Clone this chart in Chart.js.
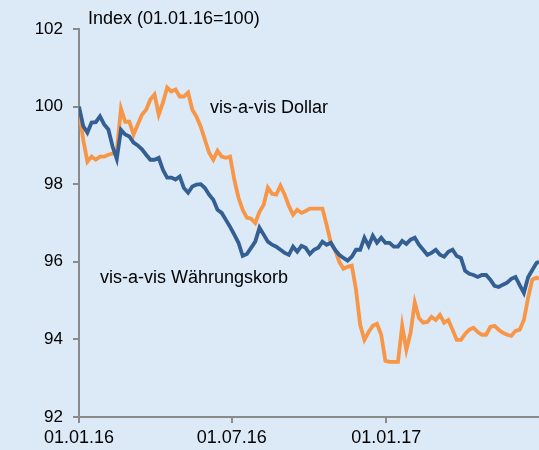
<!DOCTYPE html>
<html>
<head>
<meta charset="utf-8">
<script src="https://cdn.jsdelivr.net/npm/chart.js@4.4.0/dist/chart.umd.min.js"></script>
<style>
  body { margin: 0; background: #dce9f7; }
  #wrap { width: 539px; height: 450px; }
</style>
</head>
<body>
<div id="wrap"><canvas id="indexChart" width="539" height="450"></canvas></div>
<script>
// days since 01.01.16
const dayOffsets = [0, 5, 10, 15, 20, 25, 30, 35, 40, 45,
  50, 55, 60, 65, 70, 75, 80, 85, 90, 95,
  100, 105, 110, 115, 120, 125, 130, 135, 140, 145,
  150, 155, 160, 165, 170, 175, 180, 185, 190, 195,
  200, 205, 210, 215, 220, 225, 230, 235, 240, 245,
  250, 255, 260, 265, 270, 275, 280, 285, 290, 295,
  300, 305, 310, 315, 320, 325, 330, 335, 340, 345,
  350, 355, 360, 365, 370, 375, 380, 385, 390, 395,
  400, 405, 410, 415, 420, 425, 430, 435, 440, 445,
  450, 455, 460, 465, 470, 475, 480, 485, 490, 495,
  500, 505, 510, 515, 520, 525, 530, 535, 540, 545, 548];

const dollar = [99.9, 99.15, 98.58, 98.71, 98.63, 98.71, 98.71, 98.76, 98.79, 98.84,
  99.95, 99.61, 99.61, 99.28, 99.54, 99.79, 99.92, 100.18, 100.31, 99.79,
  100.1, 100.49, 100.39, 100.44, 100.26, 100.26, 100.36, 99.92, 99.74, 99.48,
  99.15, 98.81, 98.63, 98.86, 98.71, 98.68, 98.71, 98.12, 97.65, 97.34,
  97.14, 97.11, 97.0, 97.29, 97.47, 97.91, 97.75, 97.73, 97.96, 97.73,
  97.44, 97.21, 97.34, 97.26, 97.31, 97.37, 97.37, 97.37, 97.37, 96.95,
  96.49, 96.31, 96.0, 95.82, 95.87, 95.9, 95.28, 94.37, 93.99, 94.19,
  94.35, 94.4, 94.12, 93.45, 93.42, 93.42, 93.42, 94.35, 93.73, 94.17,
  94.95, 94.55, 94.43, 94.45, 94.58, 94.5, 94.63, 94.43, 94.5, 94.25,
  93.99, 93.99, 94.14, 94.25, 94.3, 94.19, 94.12, 94.12, 94.32, 94.35,
  94.25, 94.17, 94.12, 94.09, 94.22, 94.25, 94.5, 95.07, 95.54, 95.59, 95.56];

const basket = [100.0, 99.5, 99.33, 99.59, 99.6, 99.75, 99.54, 99.41, 98.97, 98.65,
  99.4, 99.28, 99.23, 99.07, 99.0, 98.9, 98.76, 98.63, 98.63, 98.68,
  98.37, 98.17, 98.17, 98.12, 98.2, 97.9, 97.78, 97.94, 97.99, 98.0,
  97.9, 97.73, 97.6, 97.34, 97.26, 97.08, 96.9, 96.7, 96.49, 96.15,
  96.2, 96.36, 96.52, 96.88, 96.7, 96.52, 96.44, 96.39, 96.31, 96.23,
  96.18, 96.39, 96.26, 96.41, 96.36, 96.2, 96.31, 96.36, 96.52, 96.44,
  96.49, 96.31, 96.18, 96.1, 96.03, 96.13, 96.31, 96.31, 96.62, 96.41,
  96.67, 96.49, 96.62, 96.49, 96.49, 96.39, 96.39, 96.54, 96.46, 96.57,
  96.62, 96.44, 96.31, 96.18, 96.23, 96.31, 96.18, 96.13, 96.26, 96.31,
  96.15, 96.1, 95.77, 95.69, 95.66, 95.61, 95.66, 95.66, 95.54, 95.38,
  95.35, 95.41, 95.46, 95.56, 95.61, 95.4, 95.2, 95.6, 95.79, 95.97, 96.0];

const tickDays = [0, 182, 366];
const tickLabels = ['01.01.16', '01.07.16', '01.01.17'];

const bgColor = '#dce9f7';
const axisGray = '#8a8a8a';
const font = '"Liberation Sans", Arial, sans-serif';

const toPoints = (vals) => vals.map((v, i) => ({ x: dayOffsets[i], y: v }));

const background = {
  id: 'background',
  beforeDraw(chart) {
    const ctx = chart.ctx;
    ctx.save();
    ctx.fillStyle = bgColor;
    ctx.fillRect(0, 0, chart.width, chart.height);
    ctx.restore();
  }
};

const notes = {
  id: 'notes',
  afterDraw(chart) {
    const { ctx, scales: { x, y } } = chart;
    ctx.save();
    ctx.font = '18px ' + font;
    ctx.fillStyle = '#000';
    ctx.textBaseline = 'middle';
    ctx.fillText('Index (01.01.16=100)', x.left + 9, 19);
    ctx.fillText('vis-a-vis Dollar', x.getPixelForValue(156), y.getPixelForValue(99.97));
    ctx.fillText('vis-a-vis Währungskorb', x.getPixelForValue(25), y.getPixelForValue(95.59));
    ctx.restore();
  }
};

new Chart(document.getElementById('indexChart'), {
  type: 'line',
  data: {
    datasets: [{
      label: 'vis-a-vis Währungskorb',
      data: toPoints(basket),
      borderColor: '#335f92',
      borderWidth: 3.8,
      pointRadius: 0,
      tension: 0
    },
    {
      label: 'vis-a-vis Dollar',
      data: toPoints(dollar),
      borderColor: '#f79646',
      borderWidth: 3.8,
      pointRadius: 0,
      tension: 0
    }]
  },
  options: {
    responsive: false,
    animation: false,
    layout: { padding: { top: 29, right: 0, left: 0, bottom: 0 } },
    plugins: {
      legend: { display: false },
      tooltip: { enabled: false }
    },
    scales: {
      x: {
        type: 'linear',
        min: 0,
        max: 548,
        afterBuildTicks: (s) => { s.ticks = tickDays.map(v => ({ value: v })); },
        afterFit: (s) => { s.height = 33; },
        ticks: {
          callback: (v, i) => tickLabels[i],
          color: '#000',
          font: { size: 18, family: font },
          padding: 4,
          maxRotation: 0,
          autoSkip: false
        },
        grid: { drawOnChartArea: false, tickLength: 6, color: axisGray, lineWidth: 2 },
        border: { color: axisGray, width: 2 }
      },
      y: {
        min: 92,
        max: 102,
        afterFit: (s) => { s.width = 79; },
        ticks: {
          stepSize: 2,
          color: '#000',
          font: { size: 17, family: font },
          padding: 10
        },
        grid: { drawOnChartArea: false, tickLength: 6, color: axisGray, lineWidth: 2 },
        border: { color: axisGray, width: 2 }
      }
    }
  },
  plugins: [background, notes]
});
</script>
</body>
</html>
